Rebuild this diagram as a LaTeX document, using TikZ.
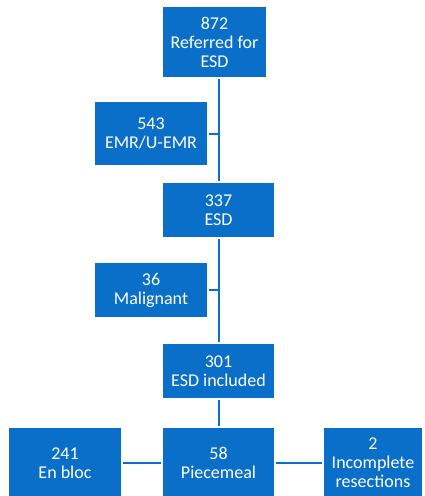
\documentclass[tikz,border=0pt]{standalone}
\usepackage{fontspec}
\setmainfont{Carlito}
\definecolor{esdblue}{RGB}{10,111,201}
\tikzset{
	esdbox/.style={fill=esdblue, text=white, align=center, inner sep=0pt, font=\fontsize{18}{19}\selectfont},
	link/.style={draw=esdblue, line width=2pt, shorten <=2pt, shorten >=2pt}
}

\begin{document}
\begin{tikzpicture}[x=1pt, y=1pt]
			%%%%% START %%%%%
			
			\useasboundingbox (0, 0) rectangle (425, -496);
			\clip (0, 0) rectangle (425, -496);
			\fill[white] (0, 0) rectangle (425, -496);
			
			\node[esdbox, minimum width=103, minimum height=70] (n872) at (214.5, -42) {872\\Referred for\\ESD};
			\node[esdbox, minimum width=112, minimum height=63] (n543) at (151, -133.5) {543\\EMR/U-EMR};
			\node[esdbox, minimum width=111, minimum height=54] (n337) at (218.5, -210) {337\\ESD};
			\node[esdbox, minimum width=112, minimum height=54] (n36) at (151, -290) {36\\Malignant};
			\node[esdbox, minimum width=111, minimum height=54] (n301) at (218.5, -371) {301\\ESD included};
			
			\node[esdbox, minimum width=112, minimum height=70] (n241) at (65, -463) {241\\En bloc};
			\node[esdbox, minimum width=111, minimum height=70] (n58) at (218.5, -463) {58\\Piecemeal};
			\node[esdbox, minimum width=98, minimum height=70] (n2) at (373, -463) {2\\Incomplete\\resections};
			
			\draw[link] (n872.south -| n337) -- (n337.north);
			\draw[link, shorten >=0pt] (n543.east) -- (n543.east -| n337);
			\draw[link] (n337.south) -- (n301.north);
			\draw[link, shorten >=0pt] (n36.east) -- (n36.east -| n301);
			\draw[link] (n301.south) -- (n58.north);
			
			\draw[link] (n58.west) -- (n241.east);
			\draw[link] (n58.east) -- (n2.west);
			
			%%%%% END %%%%%
		\end{tikzpicture}
\end{document}
